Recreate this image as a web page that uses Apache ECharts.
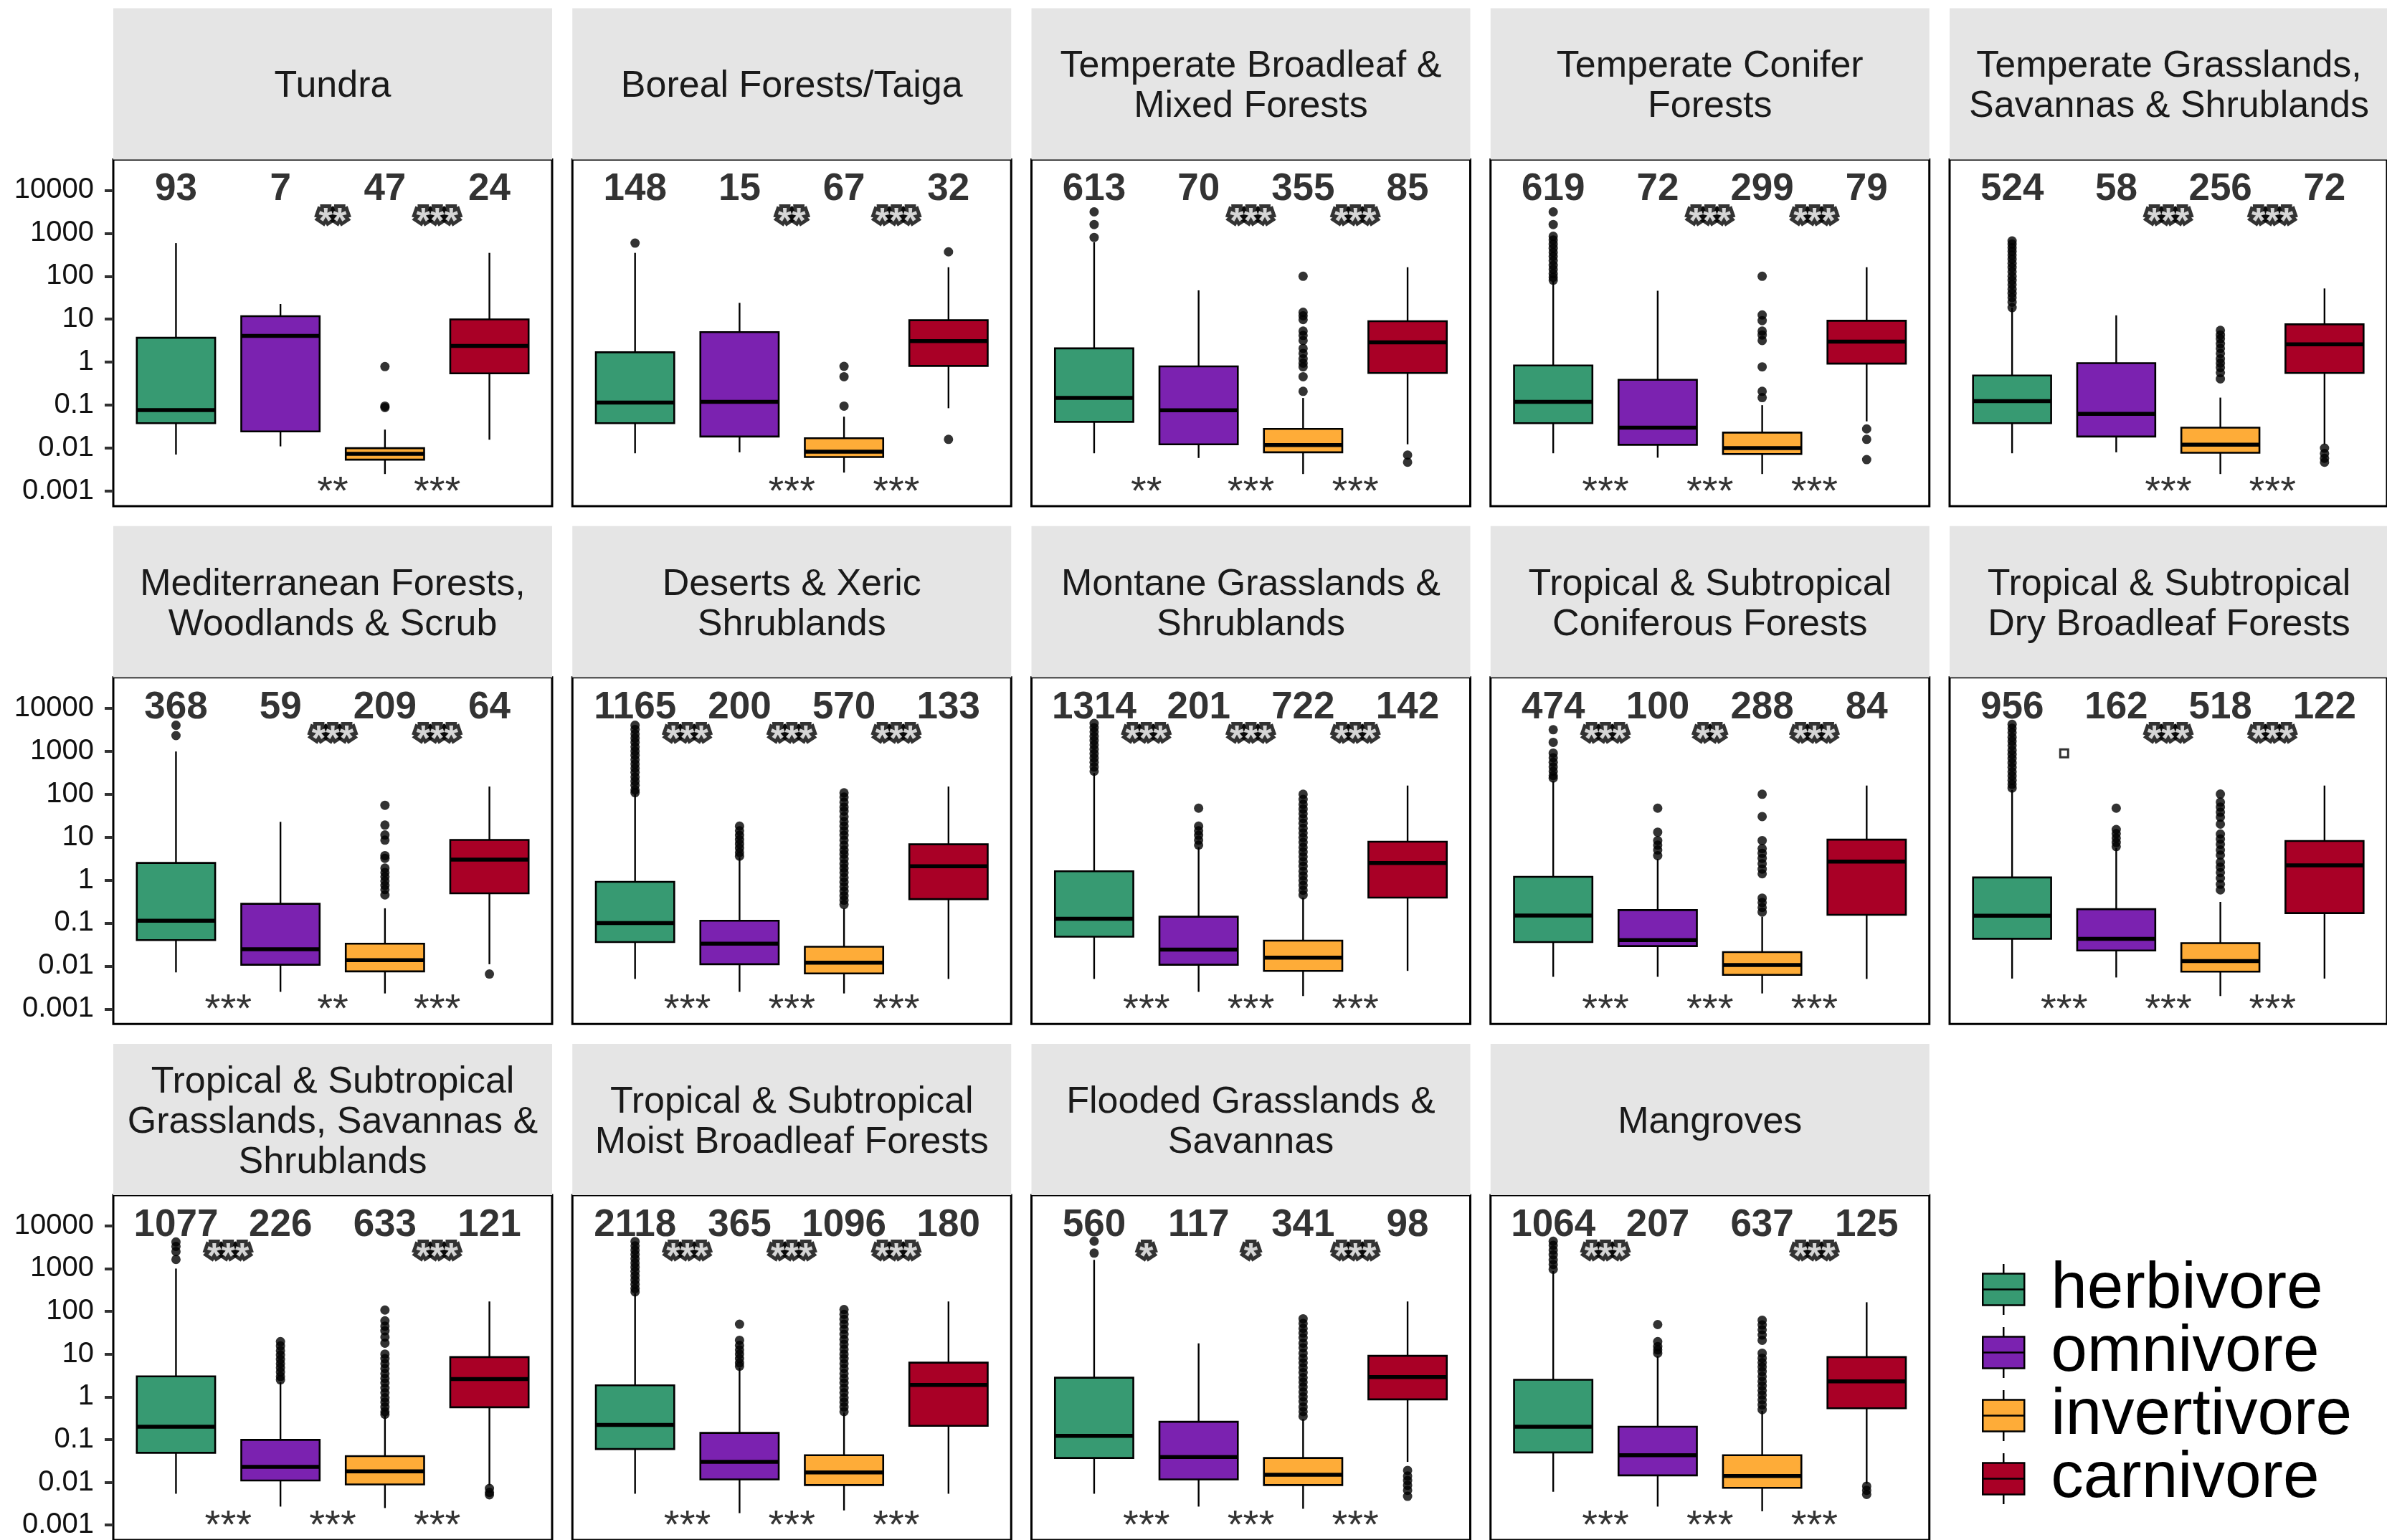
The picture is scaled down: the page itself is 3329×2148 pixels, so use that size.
<!DOCTYPE html>
<html>
<head>
<meta charset="utf-8">
<script src="https://cdn.jsdelivr.net/npm/echarts@6/dist/echarts.min.js"></script>
<style>
  html, body { margin: 0; padding: 0; background: #ffffff; }
  #chart { width: 3329px; height: 2148px; }
</style>
</head>
<body>
<div id="chart"></div>
<script>
// ---- data -----------------------------------------------------------------
const biomes = [
  'Tundra',
  'Boreal Forests/Taiga',
  'Temperate Broadleaf &\nMixed Forests',
  'Temperate Conifer\nForests',
  'Temperate Grasslands,\nSavannas & Shrublands',
  'Mediterranean Forests,\nWoodlands & Scrub',
  'Deserts & Xeric\nShrublands',
  'Montane Grasslands &\nShrublands',
  'Tropical & Subtropical\nConiferous Forests',
  'Tropical & Subtropical\nDry Broadleaf Forests',
  'Tropical & Subtropical\nGrasslands, Savannas &\nShrublands',
  'Tropical & Subtropical\nMoist Broadleaf Forests',
  'Flooded Grasslands &\nSavannas',
  'Mangroves'
];

const diets = ['herbivore', 'omnivore', 'invertivore', 'carnivore'];

const yTicks = [0.001, 0.01, 0.1, 1, 10, 100, 1000, 10000];
const yTickLabels = ['0.001', '0.01', '0.1', '1', '10', '100', '1000', '10000'];

// species per diet and biome
const speciesCounts = [
  [93, 7, 47, 24],
  [148, 15, 67, 32],
  [613, 70, 355, 85],
  [619, 72, 299, 79],
  [524, 58, 256, 72],
  [368, 59, 209, 64],
  [1165, 200, 570, 133],
  [1314, 201, 722, 142],
  [474, 100, 288, 84],
  [956, 162, 518, 122],
  [1077, 226, 633, 121],
  [2118, 365, 1096, 180],
  [560, 117, 341, 98],
  [1064, 207, 637, 125]
];

// [lower whisker, Q1, median, Q3, upper whisker] per biome
const herbivoreStats = [
  [0.0071, 0.038, 0.077, 3.7, 590],
  [0.0076, 0.038, 0.115, 1.7, 350],
  [0.0076, 0.041, 0.147, 2.1, 615],
  [0.0076, 0.038, 0.12, 0.84, 76],
  [0.0076, 0.038, 0.124, 0.49, 18.6],
  [0.0071, 0.04, 0.113, 2.5, 980],
  [0.005, 0.036, 0.1, 0.91, 100],
  [0.005, 0.048, 0.126, 1.6, 310],
  [0.0056, 0.036, 0.15, 1.19, 200],
  [0.0051, 0.043, 0.148, 1.15, 125],
  [0.0054, 0.049, 0.2, 3.0, 1000],
  [0.0054, 0.06, 0.22, 1.86, 263],
  [0.0054, 0.037, 0.122, 2.8, 1600],
  [0.006, 0.05, 0.2, 2.5, 870]
];
const omnivoreStats = [
  [0.011, 0.0245, 4.1, 11.8, 22.6],
  [0.008, 0.0186, 0.12, 5.0, 24],
  [0.0059, 0.0123, 0.076, 0.8, 47],
  [0.006, 0.012, 0.03, 0.39, 46],
  [0.008, 0.0186, 0.063, 0.95, 12.3],
  [0.0025, 0.0107, 0.0245, 0.28, 22.6],
  [0.0025, 0.011, 0.033, 0.113, 3.4],
  [0.0025, 0.0107, 0.024, 0.14, 5.8],
  [0.0056, 0.029, 0.04, 0.2, 3.1],
  [0.0054, 0.023, 0.043, 0.21, 5.6],
  [0.0027, 0.011, 0.023, 0.098, 2.2],
  [0.0019, 0.0117, 0.03, 0.143, 4.8],
  [0.0027, 0.0117, 0.039, 0.26, 17.8],
  [0.0027, 0.0145, 0.043, 0.2, 8.9]
];
const invertivoreStats = [
  [0.0025, 0.0054, 0.0074, 0.01, 0.027],
  [0.0027, 0.0062, 0.0083, 0.017, 0.054],
  [0.0025, 0.008, 0.0118, 0.028, 0.147],
  [0.0025, 0.0073, 0.01, 0.023, 0.1],
  [0.0025, 0.0078, 0.012, 0.03, 0.15],
  [0.0023, 0.0075, 0.0136, 0.033, 0.22],
  [0.0023, 0.0067, 0.012, 0.028, 0.22],
  [0.002, 0.0077, 0.0157, 0.039, 0.39],
  [0.0023, 0.0062, 0.0105, 0.021, 0.14],
  [0.002, 0.0074, 0.013, 0.034, 0.31],
  [0.0025, 0.0089, 0.018, 0.041, 0.36],
  [0.0022, 0.0086, 0.017, 0.043, 0.43],
  [0.0024, 0.0086, 0.015, 0.037, 0.30],
  [0.0021, 0.0074, 0.014, 0.043, 0.47]
];
const carnivoreStats = [
  [0.0157, 0.55, 2.4, 9.9, 350],
  [0.085, 0.82, 3.1, 9.5, 162],
  [0.0123, 0.56, 2.9, 9.0, 162],
  [0.042, 0.93, 3.0, 9.2, 162],
  [0.0123, 0.56, 2.6, 7.6, 52],
  [0.011, 0.49, 3.0, 8.6, 150],
  [0.005, 0.36, 2.1, 6.8, 150],
  [0.0077, 0.39, 2.5, 7.8, 158],
  [0.005, 0.155, 2.7, 8.7, 158],
  [0.0051, 0.17, 2.2, 8.1, 158],
  [0.0085, 0.57, 2.6, 8.5, 170],
  [0.0054, 0.21, 1.9, 6.3, 170],
  [0.03, 0.87, 2.9, 9.1, 170],
  [0.0093, 0.54, 2.3, 8.5, 163]
];

// points beyond the whiskers, per biome
const herbivoreOutliers = [
  [],
  [590],
  [3150, 1600, 800],
  [3150, 1600, 850, 700, 560, 450, 360, 290, 230, 180, 145, 115, 95, 81],
  [665, 560, 460, 380, 310, 250, 200, 160, 128, 100, 80, 64, 50, 40, 32, 25, 18.6],
  [4000, 2300],
  [4000, 3200, 2500, 2000, 1600, 1250, 1000, 800, 630, 500, 400, 320, 250, 200, 160, 125, 108],
  [4400, 3500, 2800, 2200, 1750, 1400, 1100, 870, 690, 550, 430, 340],
  [3150, 1600, 900, 700, 550, 430, 340, 270, 236],
  [4200, 3400, 2700, 2100, 1700, 1350, 1050, 840, 670, 530, 420, 330, 265, 210, 170, 138],
  [4200, 3300, 2500, 1630],
  [4300, 3400, 2700, 2150, 1700, 1350, 1080, 860, 680, 540, 430, 340, 285],
  [4370, 2300],
  [4370, 3500, 2700, 2100, 1600, 1250, 960]
];
const omnivoreOutliers = [
  [], [], [], [], [], [],
  [18, 14, 11, 8.7, 6.9, 5.5, 4.4, 3.6],
  [47, 18, 14, 11, 8.5, 6.5],
  [47, 13, 8.3, 6.5, 5, 3.7],
  [47, 15, 12, 9.5, 7.5, 6],
  [19.5, 15.5, 12, 9.5, 7.5, 6, 4.8, 3.8, 3.0, 2.5],
  [50, 21, 16, 12.5, 10, 7.8, 6.2, 5.2],
  [],
  [49, 19.5, 15, 12.5, 10.5]
];
const invertivoreOutliers = [
  [0.79, 0.095, 0.088],
  [0.8, 0.46, 0.095],
  [100, 14.5, 12, 9.8, 5.3, 4.2, 3.2, 2.1, 1.6, 1.2, 0.95, 0.78, 0.46, 0.21],
  [100, 12.6, 9.3, 5.3, 4.3, 3.2, 0.78, 0.21, 0.15],
  [5.5, 4.3, 3.5, 2.7, 2.1, 1.6, 1.2, 0.95, 0.75, 0.57, 0.41],
  [55, 19, 11.2, 8.5, 3.7, 3.2, 1.9, 1.5, 1.2, 0.95, 0.75, 0.6, 0.45],
  [107, 85, 65, 50, 40, 30, 23, 18, 14, 11, 8.5, 6.5, 5, 4, 3.1, 2.4, 1.9, 1.5, 1.15, 0.9, 0.7, 0.55, 0.43, 0.34, 0.27],
  [99, 75, 58, 45, 35, 27, 21, 16, 12.5, 9.7, 7.5, 5.8, 4.5, 3.5, 2.7, 2.1, 1.6, 1.25, 0.97, 0.75, 0.58, 0.45],
  [99, 30, 8.3, 5.4, 4.2, 3.2, 2.4, 1.8, 1.4, 0.38, 0.3, 0.23, 0.18],
  [100, 65, 50, 38, 29, 20, 11.8, 9, 6.8, 5, 3.8, 2.6, 2, 1.5, 1.1, 0.8, 0.59],
  [107, 60, 45, 35, 25, 18, 10, 7.8, 6, 4.6, 3.5, 2.7, 2.1, 1.6, 1.25, 0.95, 0.75, 0.58, 0.45, 0.39],
  [110, 85, 65, 50, 38, 29, 22, 17, 13, 10, 7.8, 6, 4.6, 3.5, 2.7, 2.1, 1.6, 1.25, 0.95, 0.75, 0.58, 0.45],
  [67, 52, 40, 31, 24, 18, 14, 10.5, 8, 6.2, 4.8, 3.7, 2.8, 2.2, 1.7, 1.3, 1.0, 0.77, 0.58, 0.45, 0.35],
  [62, 48, 37, 28, 21, 10.5, 8, 6.3, 5, 3.9, 3, 2.3, 1.8, 1.4, 1.1, 0.85, 0.65, 0.5]
];
const carnivoreOutliers = [
  [],
  [370, 0.016],
  [0.0069, 0.0047],
  [0.028, 0.016, 0.0054],
  [0.01, 0.0075, 0.0058, 0.0047],
  [0.0065],
  [], [], [], [],
  [0.0072, 0.0058, 0.0051],
  [],
  [0.019, 0.014, 0.011, 0.0085, 0.0065, 0.0047],
  [0.0081, 0.0065, 0.0052]
];

// significance between neighbouring diets (gaps 1|2, 2|3, 3|4)
const sigUpper = [
  ['', '**', '***'], ['', '**', '***'], ['', '***', '***'], ['', '***', '***'], ['', '***', '***'],
  ['', '***', '***'], ['***', '***', '***'], ['***', '***', '***'], ['***', '**', '***'], ['', '***', '***'],
  ['***', '', '***'], ['***', '***', '***'], ['*', '*', '***'], ['***', '', '***']
];
const sigLower = [
  ['', '**', '***'], ['', '***', '***'], ['**', '***', '***'], ['***', '***', '***'], ['', '***', '***'],
  ['***', '**', '***'], ['***', '***', '***'], ['***', '***', '***'], ['***', '***', '***'], ['***', '***', '***'],
  ['***', '***', '***'], ['***', '***', '***'], ['***', '***', '***'], ['***', '***', '***']
];

// a lone open mark in the dry broadleaf panel
const openMarks = [[9, 1.5, 890]];

// ---- layout & style -------------------------------------------------------
const FONT = 'Liberation Sans, Arial, sans-serif';
const dietColors = ['#379A72', '#7B22B0', '#FEAC38', '#A90026'];
const NCOL = 5;
const PANEL_LEFT = 158, COL_STEP = 640.25, PANEL_W = 612;
const PANEL_TOP = 222.5, ROW_STEP = 722.3, PANEL_H = 483.5, STRIP_H = 211;
const Y_MIN = Math.pow(10, -3.35), Y_MAX = Math.pow(10, 4.716);
const COUNT_Y = Math.pow(10, 4.01);
const UPPER_SIG_Y = Math.pow(10, 3.456);
const LOWER_SIG_Y = Math.pow(10, -2.74);

const statsByDiet = [herbivoreStats, omnivoreStats, invertivoreStats, carnivoreStats];
const outliersByDiet = [herbivoreOutliers, omnivoreOutliers, invertivoreOutliers, carnivoreOutliers];

function tickLabel(v) {
  const i = yTicks.findIndex(t => Math.abs(Math.log10(t) - Math.log10(v)) < 1e-6);
  return i >= 0 ? yTickLabels[i] : '';
}

// ggplot-style box: no whisker caps, thick median bar
function renderBox(params, api) {
  const x = api.value(0);
  const lo = api.coord([x, api.value(1)]);
  const q1 = api.coord([x, api.value(2)]);
  const md = api.coord([x, api.value(3)]);
  const q3 = api.coord([x, api.value(4)]);
  const hi = api.coord([x, api.value(5)]);
  const left = api.coord([x - 0.375, api.value(3)])[0];
  const right = api.coord([x + 0.375, api.value(3)])[0];
  const cx = md[0];
  const fill = api.visual('color');
  return {
    type: 'group',
    children: [
      { type: 'line', shape: { x1: cx, y1: hi[1], x2: cx, y2: q3[1] }, style: { stroke: '#000', lineWidth: 2.4 } },
      { type: 'line', shape: { x1: cx, y1: q1[1], x2: cx, y2: lo[1] }, style: { stroke: '#000', lineWidth: 2.4 } },
      { type: 'rect', shape: { x: left, y: q3[1], width: right - left, height: q1[1] - q3[1] },
        style: { fill: fill, stroke: '#000', lineWidth: 2.6 } },
      { type: 'line', shape: { x1: left, y1: md[1], x2: right, y2: md[1] }, style: { stroke: '#000', lineWidth: 5.5 } }
    ]
  };
}

const grids = [], xAxes = [], yAxes = [], series = [], graphics = [];

biomes.forEach((biome, g) => {
  const row = Math.floor(g / NCOL), col = g % NCOL;
  const left = PANEL_LEFT + col * COL_STEP;
  const top = PANEL_TOP + row * ROW_STEP;

  grids.push({
    left: left, top: top, width: PANEL_W, height: PANEL_H,
    show: true, borderColor: '#000', borderWidth: 3, backgroundColor: '#fff'
  });
  xAxes.push({ type: 'value', gridIndex: g, min: 0.4, max: 4.6, show: false });
  const firstCol = col === 0;
  yAxes.push({
    type: 'log', logBase: 10, gridIndex: g, min: Y_MIN, max: Y_MAX,
    axisLine: { show: false },
    splitLine: { show: false },
    axisTick: { show: firstCol, customValues: yTicks, length: 12, lineStyle: { color: '#333', width: 4 } },
    axisLabel: { show: firstCol, customValues: yTicks, margin: 27, formatter: tickLabel,
      fontFamily: FONT, fontSize: 40, color: '#111' }
  });

  // facet strip
  graphics.push({
    type: 'rect', left: left, top: top - STRIP_H, silent: true,
    shape: { width: PANEL_W, height: STRIP_H }, style: { fill: '#E5E5E5' }
  });
  graphics.push({
    type: 'text', silent: true,
    style: {
      text: biome, x: left + PANEL_W / 2, y: top - STRIP_H / 2 + 4,
      align: 'center', verticalAlign: 'middle',
      font: '52px ' + FONT, lineHeight: 56, fill: '#1a1a1a'
    }
  });

  // boxes
  diets.forEach((diet, k) => {
    series.push({
      type: 'custom', name: diet, xAxisIndex: g, yAxisIndex: g,
      itemStyle: { color: dietColors[k] },
      renderItem: renderBox,
      encode: { x: 0, y: [1, 2, 3, 4, 5] },
      data: [[k + 1].concat(statsByDiet[k][g])],
      z: 2
    });
  });

  // outlying points
  const pts = [];
  outliersByDiet.forEach((arr, k) => arr[g].forEach(v => pts.push([k + 1, v])));
  series.push({
    type: 'scatter', name: 'points', xAxisIndex: g, yAxisIndex: g, silent: true,
    symbol: 'circle', symbolSize: 13, itemStyle: { color: '#000' }, data: pts, z: 3
  });

  // counts
  series.push({
    type: 'scatter', name: 'n', xAxisIndex: g, yAxisIndex: g, silent: true,
    symbolSize: 1, itemStyle: { color: 'transparent' },
    data: speciesCounts[g].map((c, k) => ({ value: [k + 1, COUNT_Y], name: String(c) })),
    label: { show: true, position: 'inside', formatter: '{b}', fontFamily: FONT,
      fontSize: 53, fontWeight: 'bold', color: '#000' },
    z: 4
  });

  // significance stars
  const up = [], low = [];
  sigUpper[g].forEach((s, j) => { if (s) up.push({ value: [j + 1.5, UPPER_SIG_Y], name: s }); });
  sigLower[g].forEach((s, j) => { if (s) low.push({ value: [j + 1.5, LOWER_SIG_Y], name: s }); });
  series.push({
    type: 'scatter', name: 'sigUpper', xAxisIndex: g, yAxisIndex: g, silent: true,
    symbolSize: 1, itemStyle: { color: 'transparent' }, data: up,
    label: { show: true, position: 'inside', formatter: '{b}', offset: [0, 13], fontFamily: FONT,
      fontSize: 50, fontWeight: 'bold', color: '#fff', textBorderColor: '#000', textBorderWidth: 10 },
    z: 4
  });
  series.push({
    type: 'scatter', name: 'sigLower', xAxisIndex: g, yAxisIndex: g, silent: true,
    symbolSize: 1, itemStyle: { color: 'transparent' }, data: low,
    label: { show: true, position: 'inside', formatter: '{b}', offset: [0, 18], fontFamily: FONT,
      fontSize: 56, color: '#000' },
    z: 4
  });

  const opens = openMarks.filter(m => m[0] === g).map(m => [m[1], m[2]]);
  if (opens.length) {
    series.push({
      type: 'scatter', name: 'open', xAxisIndex: g, yAxisIndex: g, silent: true,
      symbol: 'rect', symbolSize: 11, data: opens,
      itemStyle: { color: '#fff', borderColor: '#000', borderWidth: 3 }, z: 4
    });
  }
});

const chart = echarts.init(document.getElementById('chart'), null, { renderer: 'canvas' });
chart.setOption({
  animation: false,
  backgroundColor: '#ffffff',
  textStyle: { fontFamily: FONT },
  grid: grids,
  xAxis: xAxes,
  yAxis: yAxes,
  series: series,
  graphic: graphics,
  legend: {
    data: diets.map(d => ({ name: d, icon: 'path://M29,0L29,13.5M0,13.5L58,13.5L58,57.5L0,57.5ZM0,35.5L58,35.5M29,57.5L29,71' })),
    orient: 'vertical', left: 2759, top: 1748,
    itemWidth: 58, itemHeight: 71, itemGap: -3,
    selectedMode: false,
    itemStyle: { borderColor: '#000', borderWidth: 2.5 },
    textStyle: { fontFamily: FONT, fontSize: 91, color: '#000', lineHeight: 84, padding: [0, 0, 0, 32] }
  }
});
</script>
</body>
</html>
